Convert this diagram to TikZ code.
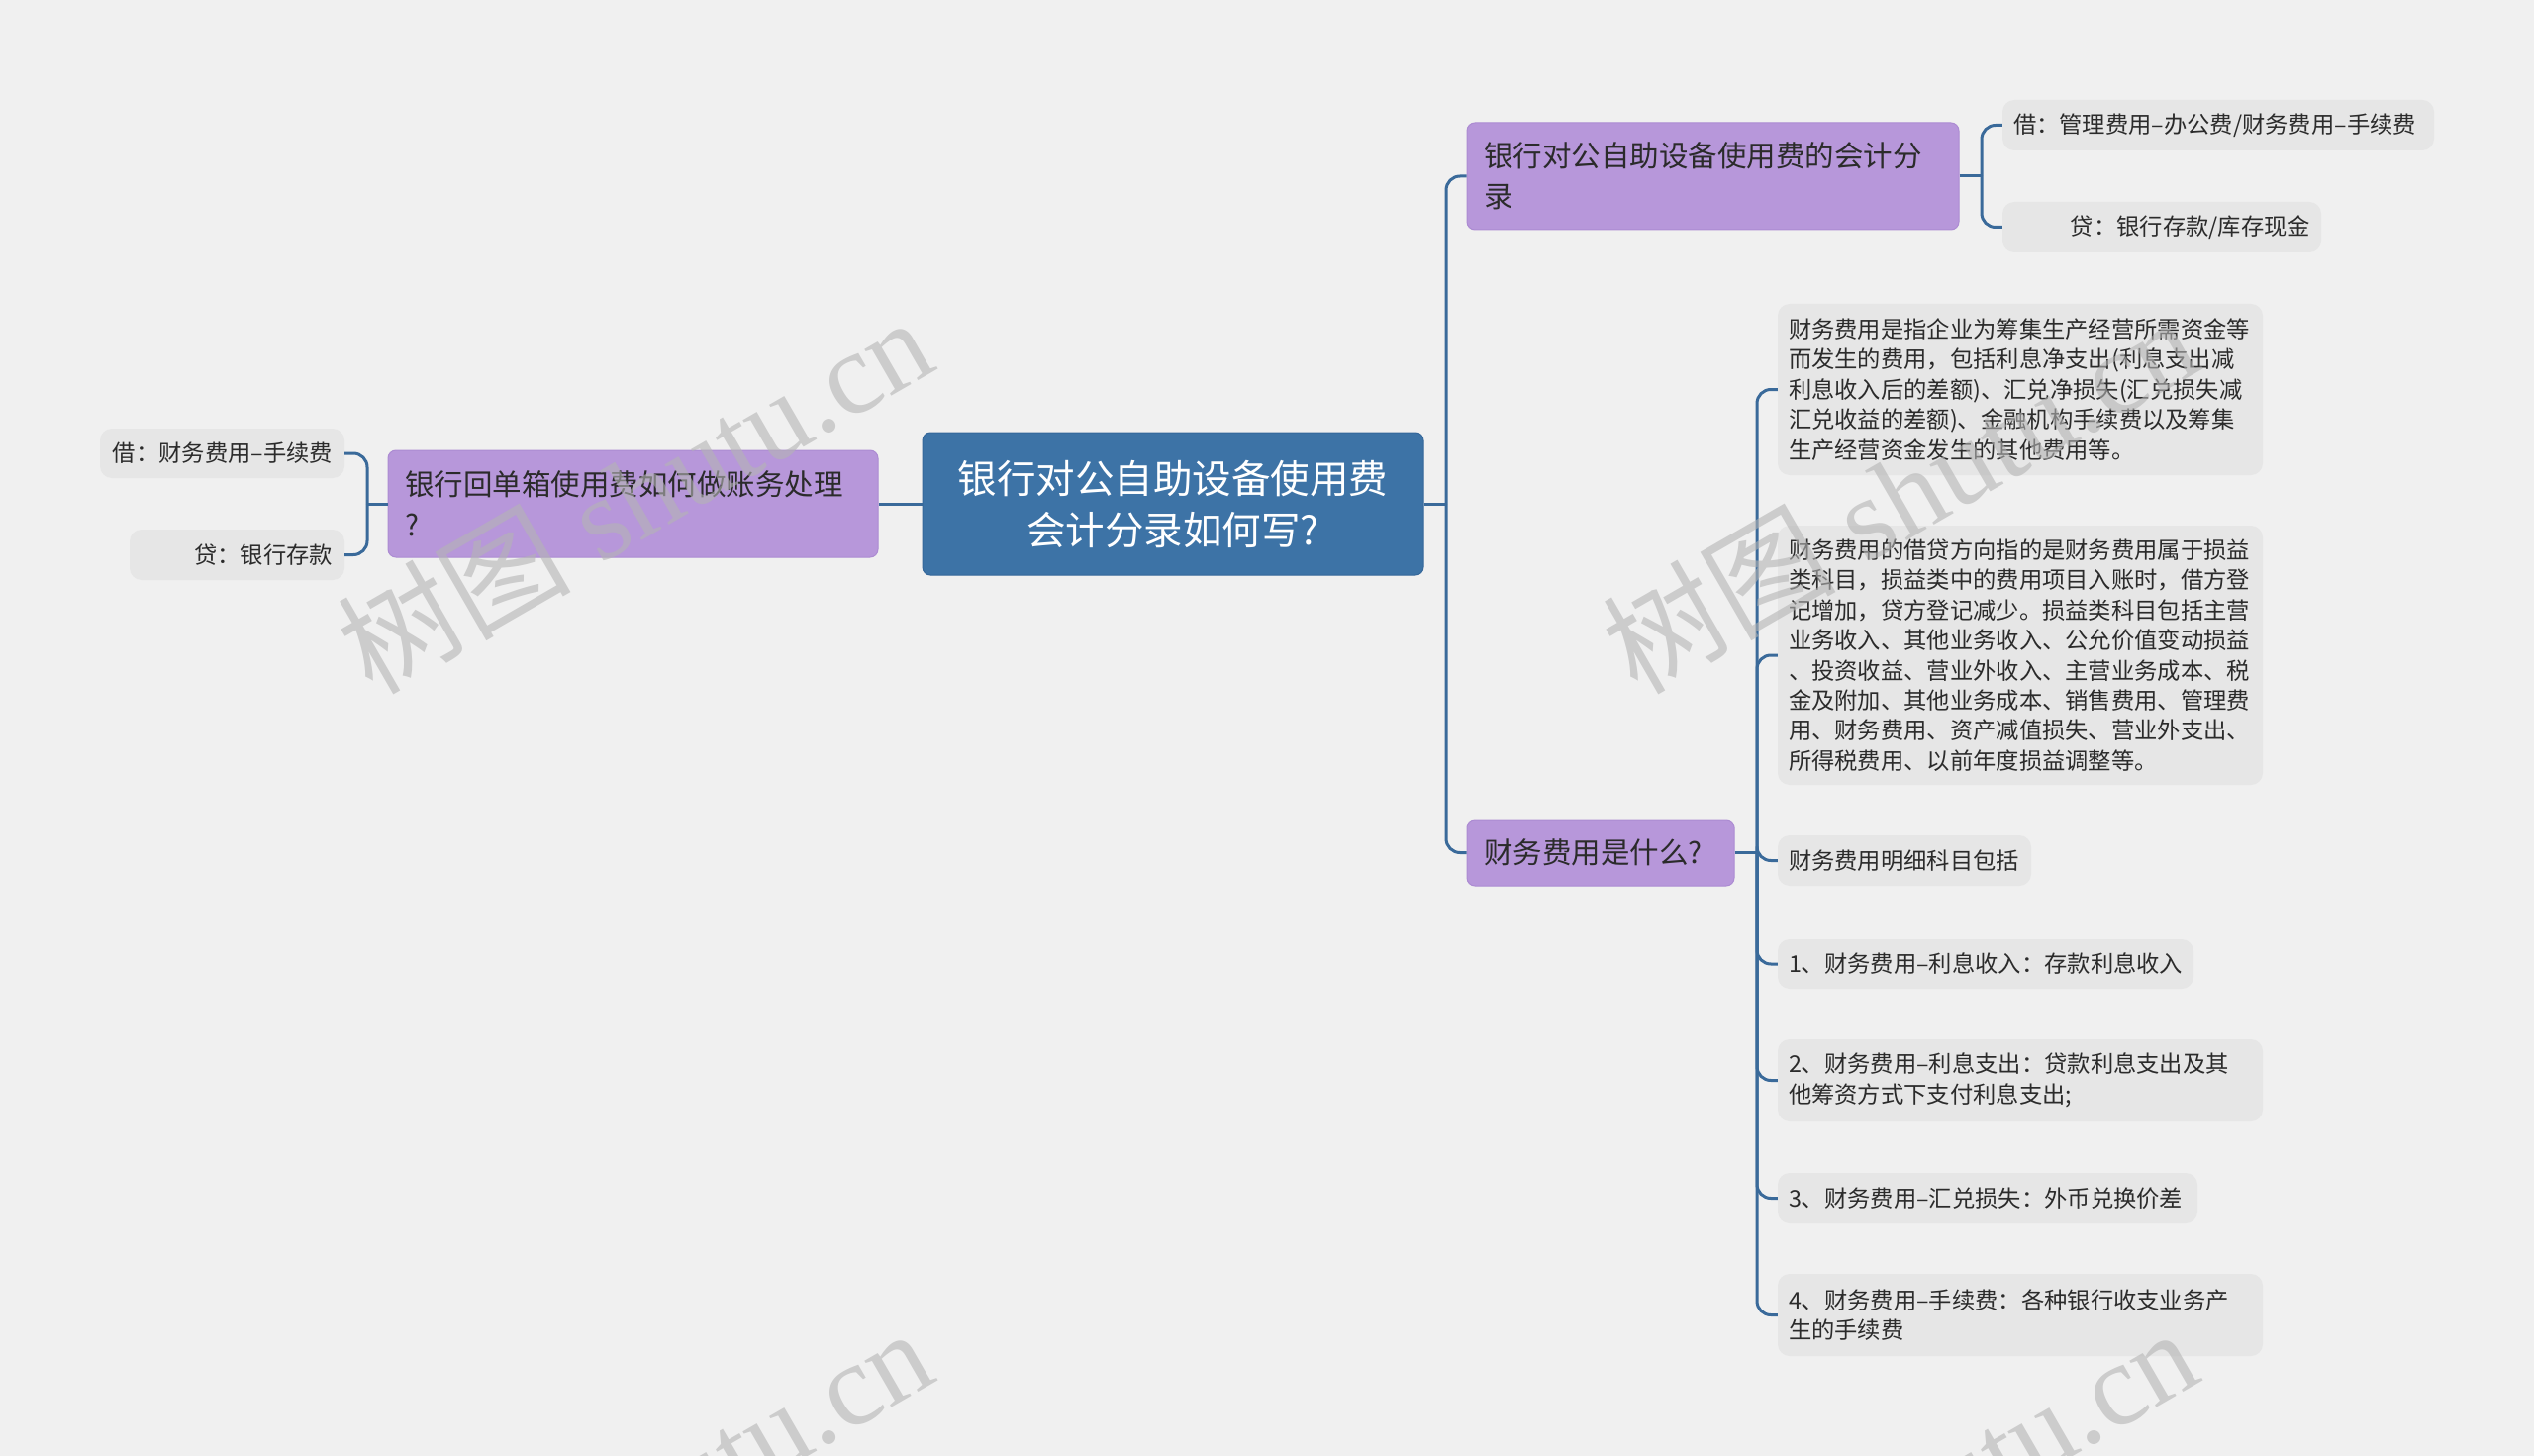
\documentclass[tikz,border=0pt]{standalone}
\usepackage{fontspec}
\newfontfamily\cjk{Noto Sans CJK SC}
\newfontfamily\wmserif{Liberation Serif}
\definecolor{bg}{HTML}{F0F0F0}
\definecolor{rootc}{HTML}{3D73A6}
\definecolor{rootd}{HTML}{35679A}
\definecolor{purp}{HTML}{B797DA}
\definecolor{purpd}{HTML}{AC8BD2}
\definecolor{leafc}{HTML}{E6E6E6}
\definecolor{linec}{HTML}{3A6A9A}
\definecolor{txt}{HTML}{2B2B2B}
\definecolor{wmc}{HTML}{B4B4B4}
\tikzset{
  leaf/.style={fill=leafc, rounded corners=12pt, inner ysep=0pt, text=txt,
    font=\cjk\fontsize{23.3}{30.4}\selectfont},
  topic/.style={fill=purp, draw=purpd, line width=1pt, rounded corners=8pt, inner ysep=0pt,
    inner xsep=17pt, text=txt, align=left, font=\cjk\fontsize{29.5}{41}\selectfont},
  rootbox/.style={fill=rootc, draw=rootd, line width=1pt, rounded corners=8pt, inner ysep=0pt,
    text=white, align=center, font=\cjk\fontsize{39.5}{52}\selectfont},
  conn/.style={draw=linec, line width=3pt, rounded corners=14pt},
  wm/.style={rotate=30, text=wmc, text opacity=0.6, inner sep=0pt,
    font=\wmserif\fontsize{118}{118}\selectfont}
}
\begin{document}
\begin{tikzpicture}[x=1pt,y=-1pt]
\useasboundingbox (0,0) rectangle (2560,1471);
\fill[bg] (0,0) rectangle (2560,1471);

% root
\node[rootbox, minimum width=506pt, minimum height=144pt, text width=480pt] (c) at (1185,509)
  {银行对公自助设备使用费\\会计分录如何写?};

% left branch
\node[topic, minimum width=495pt, minimum height=108pt, text width=461pt] (lp) at (639.5,509)
  {银行回单箱使用费如何做账务处理\\?};
\node[leaf, minimum width=247pt, minimum height=50pt, inner xsep=12pt, text width=223pt, align=right] (ll1) at (224.5,458)
  {\mbox{借：财务费用–手续费}};
\node[leaf, minimum width=217pt, minimum height=51pt, inner xsep=12pt, text width=193pt, align=right] (ll2) at (239.5,560.5)
  {\mbox{贷：银行存款}};

% right top branch
\node[topic, minimum width=497pt, minimum height=108pt, text width=463pt] (rp1) at (1730.5,178)
  {银行对公自助设备使用费的会计分\\录};
\node[leaf, minimum width=436pt, minimum height=51pt, inner xsep=11pt, text width=414pt, align=left] (rl1) at (2241,126.5)
  {\mbox{借：管理费用–办公费/财务费用–手续费}};
\node[leaf, minimum width=322pt, minimum height=51pt, inner xsep=11pt, text width=300pt, align=right] (rl2) at (2184,229.5)
  {\mbox{贷：银行存款/库存现金}};

% right bottom branch
\node[topic, minimum width=270pt, minimum height=67pt, text width=236pt] (rp2) at (1617,861.5)
  {财务费用是什么?};
\node[leaf, minimum width=490pt, minimum height=173pt, inner xsep=11pt, text width=468pt, align=left] (b1) at (2041,393.5)
  {财务费用是指企业为筹集生产经营所需资金等\\而发生的费用，包括利息净支出(利息支出减\\利息收入后的差额)、汇兑净损失(汇兑损失减\\汇兑收益的差额)、金融机构手续费以及筹集\\生产经营资金发生的其他费用等。};
\node[leaf, minimum width=490pt, minimum height=262pt, inner xsep=11pt, text width=468pt, align=left] (b2) at (2041,662)
  {财务费用的借贷方向指的是财务费用属于损益\\类科目，损益类中的费用项目入账时，借方登\\记增加，贷方登记减少。损益类科目包括主营\\业务收入、其他业务收入、公允价值变动损益\\、投资收益、营业外收入、主营业务成本、税\\金及附加、其他业务成本、销售费用、管理费\\用、财务费用、资产减值损失、营业外支出、\\所得税费用、以前年度损益调整等。};
\node[leaf, minimum width=256pt, minimum height=51pt, inner xsep=11pt, text width=234pt, align=left] (b3) at (1924,869.5)
  {\mbox{财务费用明细科目包括}};
\node[leaf, minimum width=420pt, minimum height=50pt, inner xsep=11pt, text width=398pt, align=left] (b4) at (2006,974)
  {\mbox{1、财务费用–利息收入：存款利息收入}};
\node[leaf, minimum width=490pt, minimum height=83pt, inner xsep=11pt, text width=468pt, align=left] (b5) at (2041,1091.5)
  {2、财务费用–利息支出：贷款利息支出及其\\他筹资方式下支付利息支出;};
\node[leaf, minimum width=424pt, minimum height=51pt, inner xsep=11pt, text width=402pt, align=left] (b6) at (2008,1210.5)
  {\mbox{3、财务费用–汇兑损失：外币兑换价差}};
\node[leaf, minimum width=490pt, minimum height=83pt, inner xsep=11pt, text width=468pt, align=left] (b7) at (2041,1328.5)
  {4、财务费用–手续费：各种银行收支业务产\\生的手续费};

% junctions
\coordinate (jr) at (1461,509);
\coordinate (jl) at (371,509);
\coordinate (jr1) at (2002,178);
\coordinate (jr2) at (1775,861.5);

% connectors
\draw[conn] (c.west) -- (lp.east);
\draw[conn] (lp.west) -- (jl);
\draw[conn] (jl) |- (ll1.east);
\draw[conn] (jl) |- (ll2.east);

\draw[conn] (c.east) -- (jr);
\draw[conn] (jr) |- (rp1.west);
\draw[conn] (jr) |- (rp2.west);

\draw[conn] (rp1.east) -- (jr1);
\draw[conn] (jr1) |- (rl1.west);
\draw[conn] (jr1) |- (rl2.west);

\draw[conn] (rp2.east) -- (jr2);
\foreach \b in {b1,b2,b3,b4,b5,b6,b7}{
  \draw[conn] (jr2) |- (\b.west);
}

% watermarks
\begin{scope}
\clip (0,0) rectangle (2560,1471);
\node[wm, anchor=base east] (wm1) at (950,372) {{\cjk 树图} shutu.cn};
\node[wm, anchor=base east] (wm2) at (2228,372) {{\cjk 树图} shutu.cn};
\node[wm, anchor=base east] (wm3) at (950,1394) {{\cjk 树图} shutu.cn};
\node[wm, anchor=base east] (wm4) at (2228,1394) {{\cjk 树图} shutu.cn};
\end{scope}
\end{tikzpicture}
\end{document}
